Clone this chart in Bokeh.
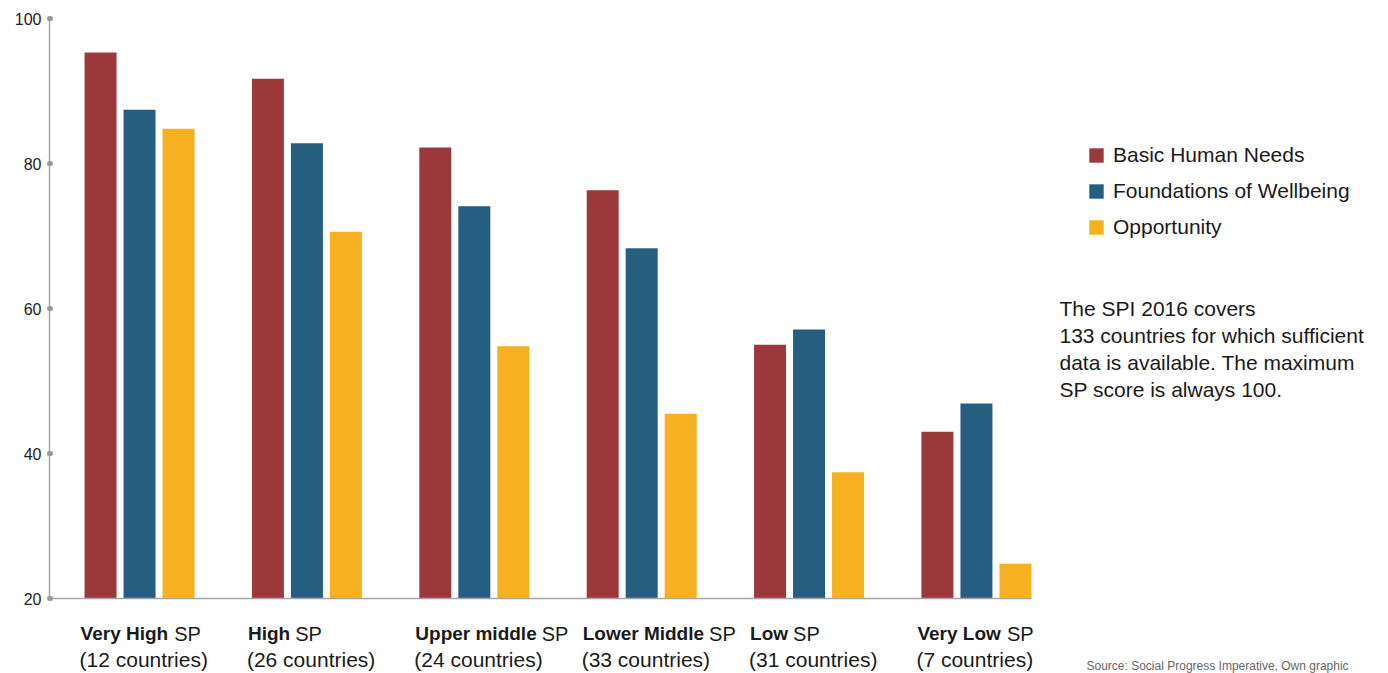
from bokeh.plotting import figure
from bokeh.models import ColumnDataSource, Label, Legend, LegendItem, Range1d, FixedTicker, LinearAxis
from bokeh.transform import dodge
from bokeh.embed import file_html
from bokeh.resources import INLINE

# ---------------- data ----------------
groups_bold = ["Very High", "High", "Upper middle", "Lower Middle", "Low", "Very Low"]
groups_count = ["(12 countries)", "(26 countries)", "(24 countries)",
                "(33 countries)", "(31 countries)", "(7 countries)"]
basic_human_needs = [95.3, 91.7, 82.2, 76.3, 55.0, 43.0]
foundations_wellbeing = [87.4, 82.8, 74.1, 68.3, 57.1, 46.9]
opportunity = [84.8, 70.6, 54.8, 45.5, 37.4, 24.8]
y_ticks = [20, 40, 60, 80, 100]
series_names = ["Basic Human Needs", "Foundations of Wellbeing", "Opportunity"]
note_lines = ["The SPI 2016 covers", "133 countries for which sufficient",
              "data is available. The maximum", "SP score is always 100."]
source_text = "Source: Social Progress Imperative, Own graphic"

# ---------------- styles / layout ----------------
COLORS = ["#9B383B", "#265E82", "#F6B020"]
AXIS_COLOR = "#a6a6a6"
TEXT = "#1a1a1a"
FONT = "Liberation Sans"
W, H = 1380, 673
LEFT, TOP = 49, 18            # frame left / top in pixels
Y_BASE, Y_MAX = 20, 100       # value axis extent
X_START, AXIS_X_END = -0.538, 5.329
PX_X = (1031 - LEFT) / (AXIS_X_END - X_START)   # pixels per category unit
PX_Y = (598 - TOP) / (Y_MAX - Y_BASE)           # pixels per value unit
X_END = X_START + (W - LEFT) / PX_X
Y_START = Y_MAX - (H - TOP) / PX_Y
BAR_W = 32 / PX_X
BAR_OFF = 39 / PX_X

def dx(px):   # pixel x (from left of figure) -> data x
    return X_START + (px - LEFT) / PX_X

def dy(py):   # pixel y (from top of figure) -> data y
    return Y_MAX - (py - TOP) / PX_Y

# Liberation Sans Bold (Arial metrics) widths, per 1000 em
BOLD_W = {"V": 667, "e": 556, "r": 389, "y": 556, " ": 278, "H": 722, "i": 278,
          "g": 611, "h": 611, "U": 722, "p": 611, "m": 889, "d": 611, "l": 278,
          "L": 611, "o": 611, "w": 778, "M": 833}

def bold_width(s, size):
    return sum(BOLD_W.get(c, 600) for c in s) * size / 1000.0

xs = list(range(len(groups_bold)))
source = ColumnDataSource(dict(x=xs, bhn=basic_human_needs,
                               fw=foundations_wellbeing, op=opportunity))

p = figure(width=W, height=H, output_backend="svg", toolbar_location=None,
           x_range=Range1d(X_START, X_END), y_range=Range1d(Y_START, Y_MAX),
           x_axis_location=None, y_axis_location=None,
           min_border_left=LEFT, min_border_top=TOP, min_border_bottom=0,
           min_border_right=0)
p.outline_line_color = None
p.grid.visible = False
p.background_fill_color = "white"
p.border_fill_color = "white"

r1 = p.vbar(x=dodge("x", -BAR_OFF, range=p.x_range), top="bhn", bottom=Y_BASE,
            width=BAR_W, source=source, fill_color=COLORS[0], line_color=None)
r2 = p.vbar(x=dodge("x", 0, range=p.x_range), top="fw", bottom=Y_BASE,
            width=BAR_W, source=source, fill_color=COLORS[1], line_color=None)
r3 = p.vbar(x=dodge("x", BAR_OFF, range=p.x_range), top="op", bottom=Y_BASE,
            width=BAR_W, source=source, fill_color=COLORS[2], line_color=None)

# y axis
ya = LinearAxis(ticker=FixedTicker(ticks=y_ticks), bounds=(Y_BASE, Y_MAX))
ya.axis_line_color = AXIS_COLOR
ya.axis_line_width = 1.5
ya.major_tick_line_color = "#999999"
ya.major_tick_line_width = 5
ya.major_tick_line_cap = "round"
ya.major_tick_in = 1
ya.major_tick_out = 0
ya.minor_tick_line_color = None
ya.major_label_text_font = FONT
ya.major_label_text_font_size = "16px"
ya.major_label_text_color = "#222222"
ya.major_label_standoff = 8
p.add_layout(ya, "left")

# x axis: baseline only, drawn at value 20
xa = LinearAxis(ticker=FixedTicker(ticks=[]), bounds=(X_START, AXIS_X_END),
                fixed_location=Y_BASE)
xa.axis_line_color = AXIS_COLOR
xa.axis_line_width = 1.5
xa.major_tick_line_color = None
xa.minor_tick_line_color = None
xa.major_tick_out = 0
xa.major_tick_in = 0
xa.major_label_standoff = 0
xa.major_label_text_font_size = "0px"
p.add_layout(xa, "below")

# category labels
for i, (b, c) in enumerate(zip(groups_bold, groups_count)):
    p.add_layout(Label(x=i, y=dy(633), x_offset=-59,
                       text=b, text_font=FONT, text_font_size="19px",
                       text_font_style="bold", text_color=TEXT,
                       text_align="left", text_baseline="alphabetic"))
    p.add_layout(Label(x=i, y=dy(633), x_offset=-59 + bold_width(b, 19) + 5,
                       text="SP", text_font=FONT, text_font_size="20px",
                       text_color=TEXT, text_align="left", text_baseline="alphabetic"))
    p.add_layout(Label(x=i, y=dy(659), x_offset=-60,
                       text=c, text_font=FONT, text_font_size="21px",
                       text_color=TEXT, text_align="left", text_baseline="alphabetic"))

# legend
legend = Legend(items=[LegendItem(label=n, renderers=[r]) for n, r in
                       zip(series_names, [r1, r2, r3])],
                location=(1087 - LEFT, H - 239), orientation="vertical",
                glyph_width=18, glyph_height=18, label_standoff=8,
                label_text_font=FONT, label_text_font_size="21px",
                label_text_color=TEXT, label_height=20, spacing=12,
                padding=0, margin=0, border_line_color=None,
                background_fill_alpha=0)
p.add_layout(legend, "center")

# note
for k, line in enumerate(note_lines):
    p.add_layout(Label(x=dx(1059), y=dy(308 + 27 * k),
                       text=line, text_font=FONT, text_font_size="21px",
                       text_color=TEXT, text_align="left", text_baseline="alphabetic"))

p.add_layout(Label(x=dx(1086), y=dy(658), text=source_text, text_font=FONT,
                   text_font_size="12px", text_color="#666666",
                   text_align="left", text_baseline="top"))

open("out.html", "w").write(file_html(p, INLINE))
